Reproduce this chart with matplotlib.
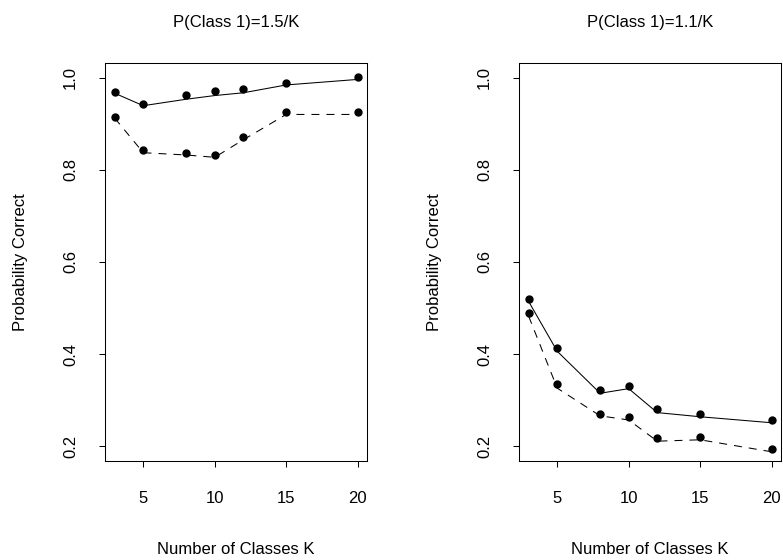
import matplotlib

matplotlib.use("Agg")
import matplotlib.pyplot as plt

plt.rcParams["font.family"] = ["Liberation Sans", "DejaVu Sans"]

# number of classes K
K = [3, 5, 8, 10, 12, 15, 20]

# panel 1: P(Class 1) = 1.5/K
p15_solid_pts = [0.969, 0.943, 0.962, 0.970, 0.975, 0.989, 1.002]
p15_solid_line = [0.966, 0.939, 0.953, 0.961, 0.967, 0.984, 0.996]
p15_dash_pts = [0.915, 0.843, 0.836, 0.832, 0.870, 0.925, 0.925]
p15_dash_line = [0.912, 0.837, 0.832, 0.827, 0.865, 0.920, 0.920]

# panel 2: P(Class 1) = 1.1/K
p11_solid_pts = [0.520, 0.413, 0.322, 0.330, 0.280, 0.270, 0.257]
p11_solid_line = [0.514, 0.406, 0.315, 0.325, 0.273, 0.264, 0.251]
p11_dash_pts = [0.489, 0.335, 0.271, 0.263, 0.217, 0.220, 0.193]
p11_dash_line = [0.482, 0.326, 0.266, 0.257, 0.211, 0.214, 0.188]

titles = ["P(Class 1)=1.5/K", "P(Class 1)=1.1/K"]
panels = [
    (p15_solid_pts, p15_solid_line, p15_dash_pts, p15_dash_line),
    (p11_solid_pts, p11_solid_line, p11_dash_pts, p11_dash_line),
]

fig = plt.figure(figsize=(7.83, 5.6), dpi=100)
lefts = [0.1341, 0.6628]
FS = 12

for left, title, (sp, sl, dp, dl) in zip(lefts, titles, panels):
    ax = fig.add_axes([left, 0.1768, 0.335, 0.711])
    ax.plot(K, sl, color="black", lw=0.75)
    ax.plot(K, dl, color="black", lw=0.75, ls=(0, (7.7, 6.7)))
    ax.plot(K, sp, "o", color="black", ms=5, mec="black")
    ax.plot(K, dp, "o", color="black", ms=5, mec="black")

    ax.set_xlim(2.32, 20.68)
    ax.set_ylim(0.168, 1.032)
    ax.set_xticks([5, 10, 15, 20])
    ax.set_yticks([0.2, 0.4, 0.6, 0.8, 1.0])
    ax.set_xticklabels(["5", "10", "15", "20"])
    ax.set_yticklabels(["0.2", "0.4", "0.6", "0.8", "1.0"], rotation=90, va="center")
    ax.tick_params(axis="x", pad=17)
    ax.tick_params(axis="y", pad=15)
    ax.tick_params(direction="out", length=4.5, width=0.75, labelsize=FS)
    for sp_ in ax.spines.values():
        sp_.set_linewidth(0.75)

    ax.set_title(title, fontsize=FS, pad=26)
    ax.set_xlabel("Number of Classes K", fontsize=FS, labelpad=26)
    ax.set_ylabel("Probability Correct", fontsize=FS, labelpad=25)

fig.savefig("out.png", dpi=100)
